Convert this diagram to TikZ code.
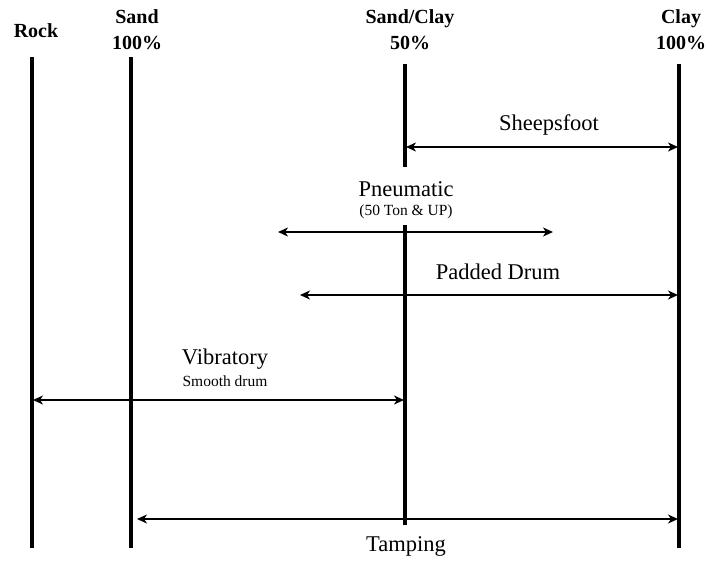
\documentclass[tikz,border=0pt]{standalone}
\usepackage{fontspec}
\setmainfont{Liberation Serif}
\usetikzlibrary{arrows.meta}
\tikzset{
  divider/.style={line width=3.2pt},
  spanarrow/.style={line width=2.8pt,{Stealth[length=10pt,width=9pt,inset=3pt]}-{Stealth[length=10pt,width=9pt,inset=3pt]}},
  head/.style={font=\bfseries\fontsize{20}{26}\selectfont,inner sep=0pt,align=center},
  lab/.style={font=\fontsize{22.5}{26}\selectfont,inner sep=0pt},
  sublab/.style={font=\fontsize{15.5}{18}\selectfont,inner sep=0pt}
}
\begin{document}
\begin{tikzpicture}[x=1pt,y=-1pt]
\useasboundingbox (0,0) rectangle (712,565);
% headers
\node[head] (rock) at (36,31) {Rock};
\node[head] (sand) at (137,30) {Sand\\100\%};
\node[head] (mix) at (410,30) {Sand/Clay\\50\%};
\node[head] (clay) at (681,30) {Clay\\100\%};
% divider ends
\coordinate (rockT) at (32,57);  \coordinate (rockB) at (32,548);
\coordinate (sandT) at (131,57); \coordinate (sandB) at (131,548);
\coordinate (mixT) at (405,64);  \coordinate (mixM) at (405,167);
\coordinate (mixN) at (405,225); \coordinate (mixB) at (405,525);
\coordinate (clayT) at (679,64); \coordinate (clayB) at (679,548);
\draw[divider] (rockT) -- (rockB);
\draw[divider] (sandT) -- (sandB);
\draw[divider] (mixT) -- (mixM);
\draw[divider] (mixN) -- (mixB);
\draw[divider] (clayT) -- (clayB);
% ranges
\coordinate (sheepL) at (406,147); \coordinate (sheepR) at (678,147);
\coordinate (pneuL) at (278,232);  \coordinate (pneuR) at (553,232);
\coordinate (padL) at (300,295);   \coordinate (padR) at (678,295);
\coordinate (vibL) at (33,400);    \coordinate (vibR) at (404,400);
\coordinate (tampL) at (137,519);  \coordinate (tampR) at (678,519);
\draw[spanarrow] (sheepL) -- (sheepR);
\draw[spanarrow] (pneuL) -- (pneuR);
\draw[spanarrow] (padL) -- (padR);
\draw[spanarrow] (vibL) -- (vibR);
\draw[spanarrow] (tampL) -- (tampR);
% labels
\node[lab] (sheep) at (549,125) {Sheepsfoot};
\node[lab] (pneu) at (406,189) {Pneumatic};
\node[sublab] (pneusub) at (406,212) {(50 Ton \& UP)};
\node[lab] (pad) at (498,272) {Padded Drum};
\node[lab] (vib) at (225,359) {Vibratory};
\node[sublab] (vibsub) at (225,381) {Smooth drum};
\node[lab] (tamp) at (406,546) {Tamping};
\end{tikzpicture}
\end{document}
